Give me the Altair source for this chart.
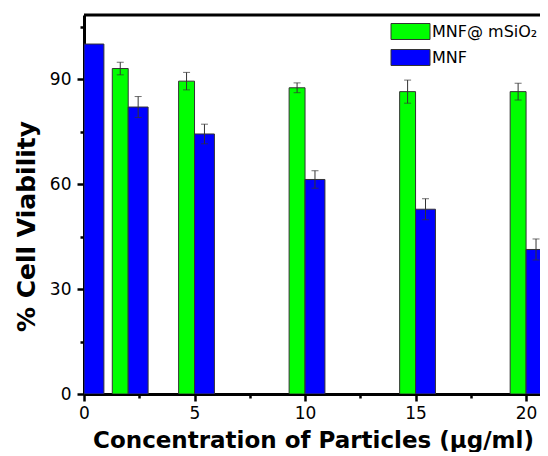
import altair as alt
import pandas as pd

series_names = ["MNF@ mSiO₂", "MNF"]
conc_green = [2, 5, 10, 15, 20]
viab_green = [93.0, 89.4, 87.5, 86.4, 86.4]
err_green = [1.8, 2.5, 1.4, 3.3, 2.4]
conc_blue = [0, 2, 5, 10, 15, 20]
viab_blue = [100.0, 82.0, 74.3, 61.3, 52.8, 41.3]
err_blue = [0.0, 3.0, 2.8, 2.5, 3.0, 3.0]
x_ticks = [0, 2.5, 5, 7.5, 10, 12.5, 15, 17.5, 20]
y_ticks = [0, 15, 30, 45, 60, 75, 90, 105]
colors = ["#00FF00", "#0000FF"]

GREEN_W = 0.72
BLUE_W = 0.9

rows = []
for c, v, e in zip(conc_green, viab_green, err_green):
    rows.append({"series": series_names[0], "conc": c, "viab": v, "err": e,
                 "x0": c - GREEN_W, "x1": c})
for c, v, e in zip(conc_blue, viab_blue, err_blue):
    rows.append({"series": series_names[1], "conc": c, "viab": v, "err": e,
                 "x0": c, "x1": c + BLUE_W})
df = pd.DataFrame(rows)
df["lo"] = df["viab"] - df["err"]
df["hi"] = df["viab"] + df["err"]
df["xc"] = (df["x0"] + df["x1"]) / 2

xscale = alt.Scale(domain=[0, 20.63], nice=False, zero=False)
yscale = alt.Scale(domain=[0, 108.3], nice=False)
XT = "Concentration of Particles (μg/ml)"
YT = "% Cell Viability"

xaxis = alt.Axis(
    values=x_ticks,
    labelExpr="datum.value % 5 === 0 ? datum.label : ''",
    tickSize={"condition": {"test": "datum.value % 5 === 0", "value": 7}, "value": 4},
    labelPadding=4,
    labelFlush=False,
    titleX=229,
    titleY=53,
    titleBaseline="alphabetic",
    titleFontSize=23,
)
yaxis = alt.Axis(
    values=y_ticks,
    labelExpr="datum.value % 30 === 0 ? datum.label : ''",
    tickSize={"condition": {"test": "datum.value % 30 === 0", "value": 7}, "value": 4},
    labelPadding=6,
    labelFlush=False,
    titleX=-50,
    titleY=211,
    titleBaseline="alphabetic",
    titleFontSize=25,
)

base = alt.Chart(df)

bars = base.mark_rect(stroke="#333333", strokeWidth=1, clip=True).encode(
    x=alt.X("x0:Q", scale=xscale, axis=xaxis, title=XT),
    x2="x1:Q",
    y=alt.Y("viab:Q", scale=yscale, axis=yaxis, title=YT),
    y2=alt.datum(0),
    color=alt.Color(
        "series:N",
        scale=alt.Scale(domain=series_names, range=colors),
        legend=alt.Legend(
            title=None,
            orient="none",
            legendX=316,
            legendY=6,
            symbolType="M-2,-0.82L2,-0.82L2,0.82L-2,0.82Z",
            symbolSize=380,
            symbolStrokeColor="#333333",
            symbolStrokeWidth=1,
            symbolOpacity=1,
            labelFont="DejaVu Sans",
            labelFontSize=16,
            labelColor="black",
            labelOffset=11,
            rowPadding=5,
            padding=0,
        ),
    ),
)

ebars = base.transform_filter("datum.err > 0").mark_rule(color="#333333", strokeWidth=1).encode(
    x=alt.X("xc:Q", scale=xscale, title=XT),
    y=alt.Y("lo:Q", scale=yscale, title=YT),
    y2="hi:Q",
)

caps = base.transform_filter("datum.err > 0").transform_fold(["lo", "hi"], as_=["k", "v"]).mark_tick(
    orient="horizontal", size=7, thickness=1, color="#333333"
).encode(
    x=alt.X("xc:Q", scale=xscale, title=XT),
    y=alt.Y("v:Q", scale=yscale, title=YT),
)

topline = alt.Chart(pd.DataFrame({"a": [0]})).mark_rule(color="black", strokeWidth=3).encode(
    y=alt.value(0)
)

chart = alt.layer(bars, ebars, caps, topline).properties(
    width=456,
    height=379,
    autosize=alt.AutoSizeParams(type="none"),
    padding={"left": 76, "top": 7, "right": 0, "bottom": 58},
    background="white",
).configure_view(stroke=None).configure_axis(
    grid=False,
    domainColor="black",
    domainWidth=3,
    tickColor="black",
    tickWidth=2.5,
    labelFont="DejaVu Sans",
    labelFontSize=17,
    labelColor="black",
    titleFont="DejaVu Sans",
    titleFontWeight="bold",
    titleColor="black",
)

chart.save("out.html", embed_options={"renderer": "svg", "actions": False})
